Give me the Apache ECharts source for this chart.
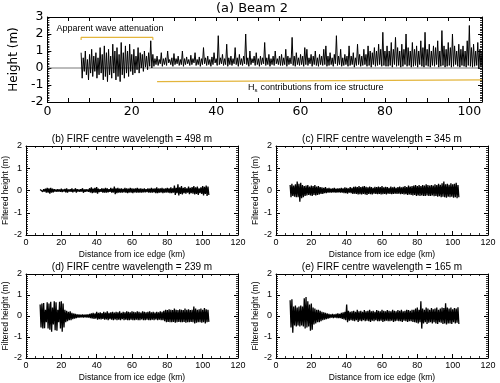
<!DOCTYPE html>
<html>
<head>
<meta charset="utf-8">
<script src="https://cdn.jsdelivr.net/npm/echarts/dist/echarts.min.js"></script>
<style>
  html, body { margin: 0; padding: 0; background: #fff; }
  #chart { width: 500px; height: 383px; }
</style>
</head>
<body>
<div id="chart"></div>
<script>
/* ================================
   DATA
================================ */
// (a) Beam 2 : local crest / trough of the height trace, every 0.5 km from 8 km
const beamStart = 8;
const beamStep = 0.5;
const beamHi = [
  0.9,0.6,1.0,0.5,0.8,1.1,0.7,0.9,0.6,
  1.2,0.8,1.3,0.9,1.1,0.7,1.4,1.0,1.2,0.8,1.5,0.9,1.3,1.0,1.4,0.8,
  1.1,0.7,1.2,0.9,0.8,1.0,0.7,0.9,1.6,0.8,
  0.55,0.7,0.5,0.9,0.55,0.6,1.0,0.5,0.6,0.85,
  0.55,0.7,0.5,1.0,0.55,0.65,0.5,0.75,0.55,0.9,
  0.5,0.65,0.55,1.2,0.6,0.7,0.5,0.65,0.9,0.55,
  1.9,0.6,0.8,0.55,1.4,0.6,0.7,0.55,1.2,0.6,
  0.8,0.55,0.7,2.0,0.6,1.0,0.55,0.7,0.9,0.55,
  0.7,0.6,1.5,0.6,0.8,0.55,0.7,1.0,0.55,0.7,
  0.8,0.6,1.1,0.7,0.6,1.8,0.7,0.9,0.6,0.8,
  0.7,1.2,1.1,0.6,0.8,0.7,1.0,0.6,0.8,0.7,
  1.1,1.3,0.7,0.9,0.6,0.8,1.9,0.7,1.1,0.6,
  0.8,0.7,1.3,0.7,0.9,0.6,1.4,0.8,0.7,1.1,
  0.8,1.3,1.0,0.9,1.2,1.0,1.4,1.1,2.1,1.0,
  1.3,1.0,1.5,1.1,1.8,1.2,1.0,1.4,1.1,2.0,
  1.2,1.0,1.5,1.1,1.3,1.0,1.6,1.2,2.1,1.1,
  1.4,1.0,1.3,1.2,1.6,1.0,2.2,1.3,1.1,1.5,
  1.2,2.0,1.3,1.0,1.4,1.1,1.3,1.0,1.6,2.5,
  1.2,1.4,1.0,1.5,1.1,0.9
];
const beamLo = [
  -0.6,-0.2,-0.4,-0.7,-0.3,-0.5,-0.2,-0.6,-0.4,
  -0.3,-0.7,-0.5,-0.8,-0.4,-0.6,-0.3,-0.7,-0.5,-0.8,-0.4,-0.6,-0.3,-0.5,-0.2,-0.4,
  -0.3,-0.1,-0.3,0.0,-0.2,0.05,-0.1,0.1,0.0,0.1,
  0.2,0.15,0.25,0.1,0.2,0.15,0.3,0.2,0.1,0.2,
  0.25,0.15,0.2,0.1,0.2,0.25,0.15,0.2,0.3,0.15,
  0.2,0.1,0.2,0.25,0.15,0.2,0.1,0.2,0.3,0.15,
  0.2,0.25,0.15,0.2,0.1,0.2,0.15,0.25,0.2,0.1,
  0.2,0.15,0.25,0.2,0.1,0.2,0.3,0.15,0.2,0.1,
  0.2,0.25,0.15,0.2,0.1,0.2,0.15,0.25,0.2,0.15,
  0.15,0.2,0.1,0.2,0.25,0.15,0.1,0.2,0.15,0.2,
  0.1,0.2,0.15,0.25,0.1,0.2,0.15,0.1,0.2,0.15,
  0.2,0.1,0.15,0.2,0.1,0.25,0.15,0.2,0.1,0.15,
  0.2,0.1,0.15,0.2,0.05,0.15,0.2,0.1,0.15,0.2,
  0.1,0.15,0.05,0.2,0.1,0.15,0.2,0.1,0.15,0.1,
  0.1,0.15,0.05,0.2,0.1,0.15,0.05,0.1,0.2,0.1,
  0.15,0.05,0.1,0.15,0.05,0.2,0.1,0.05,0.15,0.1,
  0.05,0.15,0.1,0.2,0.05,0.1,0.15,0.05,0.1,0.15,
  0.05,0.1,0.2,0.1,0.05,0.15,0.1,0.05,0.15,0.1,
  0.05,0.1,0.15,0.0,0.1,0.05
];

// annotation brackets on panel (a), [km, m]
const attenuationBracket = [[8, 1.65], [8, 1.8], [25, 1.8], [25, 1.65]];
const iceBracket = [[26, -0.8], [26, -0.7], [103, -0.7]];

// (b)-(e) filtered heights: crest / trough per 1 km from 8 km
const firfStart = 8;
const firfStep = 1;
const firf498Hi = [
  0.04,0.05,0.06,0.08,0.12,0.1,0.12,0.08,0.06,0.05,
  0.06,0.05,0.08,0.05,0.07,0.1,0.05,0.06,0.09,0.05,
  0.1,0.06,0.05,0.06,0.1,0.05,0.06,0.05,0.1,0.14,
  0.08,0.12,0.15,0.08,0.06,0.1,0.08,0.12,0.09,0.06,
  0.12,0.08,0.18,0.1,0.12,0.08,0.1,0.07,0.12,0.1,
  0.08,0.12,0.1,0.08,0.1,0.12,0.08,0.1,0.07,0.09,
  0.06,0.1,0.08,0.12,0.08,0.1,0.14,0.09,0.1,0.12,
  0.08,0.1,0.12,0.1,0.14,0.1,0.22,0.12,0.28,0.14,
  0.2,0.12,0.15,0.1,0.18,0.12,0.15,0.2,0.14,0.18,
  0.1,0.14,0.2,0.16,0.22,0.18
];
const firf498Lo = [
  -0.04,-0.06,-0.05,-0.1,-0.1,-0.14,-0.1,-0.08,-0.05,-0.06,
  -0.05,-0.06,-0.07,-0.05,-0.08,-0.09,-0.05,-0.06,-0.08,-0.05,
  -0.09,-0.05,-0.06,-0.05,-0.1,-0.06,-0.05,-0.06,-0.09,-0.12,
  -0.1,-0.1,-0.14,-0.07,-0.06,-0.09,-0.1,-0.1,-0.08,-0.06,
  -0.1,-0.09,-0.16,-0.12,-0.1,-0.09,-0.1,-0.08,-0.1,-0.12,
  -0.09,-0.1,-0.12,-0.08,-0.1,-0.1,-0.09,-0.1,-0.08,-0.08,
  -0.07,-0.09,-0.1,-0.1,-0.08,-0.12,-0.12,-0.1,-0.09,-0.12,
  -0.1,-0.09,-0.1,-0.12,-0.12,-0.1,-0.2,-0.12,-0.22,-0.15,
  -0.18,-0.12,-0.14,-0.1,-0.16,-0.12,-0.14,-0.18,-0.15,-0.2,
  -0.12,-0.15,-0.22,-0.15,-0.25,-0.2
];
const firf345Hi = [
  0.25,0.3,0.22,0.28,0.4,0.3,0.35,0.25,0.2,0.22,
  0.25,0.18,0.22,0.2,0.25,0.18,0.2,0.15,0.14,0.12,
  0.15,0.1,0.12,0.08,0.1,0.12,0.08,0.1,0.09,0.12,
  0.1,0.14,0.12,0.1,0.15,0.12,0.16,0.18,0.15,0.2,
  0.15,0.18,0.2,0.16,0.14,0.18,0.15,0.12,0.16,0.15,
  0.18,0.15,0.2,0.14,0.16,0.15,0.12,0.18,0.14,0.16,
  0.12,0.15,0.18,0.14,0.16,0.2,0.15,0.22,0.18,0.2,
  0.22,0.25,0.2,0.24,0.2,0.25,0.22,0.28,0.24,0.22,
  0.25,0.22,0.28,0.25,0.3,0.26,0.32,0.4,0.28,0.3,
  0.26,0.32,0.28,0.3,0.35,0.25
];
const firf345Lo = [
  -0.3,-0.25,-0.28,-0.3,-0.3,-0.5,-0.35,-0.3,-0.25,-0.22,
  -0.2,-0.22,-0.25,-0.2,-0.22,-0.2,-0.18,-0.15,-0.15,-0.12,
  -0.12,-0.1,-0.1,-0.1,-0.08,-0.1,-0.1,-0.08,-0.1,-0.1,
  -0.12,-0.12,-0.14,-0.1,-0.12,-0.15,-0.14,-0.15,-0.18,-0.16,
  -0.18,-0.15,-0.18,-0.2,-0.15,-0.16,-0.18,-0.14,-0.15,-0.16,
  -0.15,-0.18,-0.16,-0.15,-0.18,-0.14,-0.15,-0.16,-0.15,-0.14,
  -0.15,-0.14,-0.16,-0.15,-0.18,-0.16,-0.2,-0.18,-0.2,-0.22,
  -0.2,-0.24,-0.22,-0.25,-0.22,-0.24,-0.25,-0.22,-0.25,-0.24,
  -0.22,-0.26,-0.25,-0.28,-0.26,-0.3,-0.28,-0.3,-0.32,-0.28,
  -0.3,-0.28,-0.32,-0.3,-0.35,-0.3
];
const firf239Hi = [
  0.55,0.6,0.62,0.3,0.65,0.6,0.68,0.4,0.7,0.65,
  0.3,0.68,0.7,0.6,0.3,0.25,0.2,0.22,0.15,0.12,
  0.1,0.08,0.07,0.06,0.08,0.06,0.07,0.08,0.1,0.12,
  0.15,0.12,0.2,0.15,0.18,0.14,0.2,0.16,0.22,0.15,
  0.18,0.2,0.16,0.2,0.18,0.22,0.15,0.2,0.18,0.22,
  0.2,0.18,0.22,0.2,0.18,0.22,0.2,0.16,0.22,0.2,
  0.18,0.2,0.22,0.18,0.2,0.16,0.2,0.18,0.22,0.2,
  0.25,0.3,0.28,0.32,0.3,0.28,0.35,0.3,0.28,0.32,
  0.3,0.28,0.35,0.3,0.32,0.28,0.3,0.45,0.35,0.3,
  0.32,0.35,0.3,0.38,0.32,0.3
];
const firf239Lo = [
  -0.55,-0.6,-0.58,-0.3,-0.6,-0.65,-0.75,-0.4,-0.68,-0.7,
  -0.3,-0.6,-0.75,-0.55,-0.3,-0.25,-0.2,-0.2,-0.15,-0.12,
  -0.1,-0.08,-0.07,-0.06,-0.07,-0.06,-0.07,-0.08,-0.1,-0.12,
  -0.14,-0.12,-0.18,-0.15,-0.16,-0.14,-0.18,-0.16,-0.2,-0.15,
  -0.18,-0.2,-0.16,-0.2,-0.18,-0.2,-0.15,-0.2,-0.18,-0.2,
  -0.2,-0.18,-0.2,-0.2,-0.18,-0.2,-0.2,-0.16,-0.2,-0.2,
  -0.18,-0.2,-0.2,-0.18,-0.2,-0.16,-0.2,-0.18,-0.2,-0.2,
  -0.25,-0.3,-0.28,-0.3,-0.3,-0.28,-0.32,-0.3,-0.28,-0.3,
  -0.3,-0.28,-0.32,-0.3,-0.3,-0.28,-0.3,-0.35,-0.32,-0.3,
  -0.3,-0.32,-0.3,-0.35,-0.3,-0.28
];
const firf165Hi = [
  0.75,0.8,0.45,0.5,0.4,0.45,0.5,0.45,0.85,0.9,
  0.7,0.55,0.6,0.4,0.35,0.3,0.3,0.25,0.2,0.18,
  0.15,0.12,0.1,0.08,0.1,0.08,0.1,0.12,0.1,0.15,
  0.18,0.2,0.55,0.25,0.2,0.22,0.25,0.2,0.3,0.22,
  0.25,0.2,0.28,0.22,0.25,0.3,0.22,0.25,0.2,0.28,
  0.25,0.22,0.3,0.25,0.22,0.28,0.25,0.22,0.3,0.25,
  0.22,0.28,0.25,0.3,0.22,0.25,0.3,0.28,0.25,0.3,
  0.3,0.35,0.4,0.3,0.7,0.35,0.3,0.4,0.35,0.3,
  0.38,0.32,0.35,0.4,0.3,0.35,0.4,0.38,0.6,0.4,
  0.35,0.4,0.32,0.38,0.35,0.42
];
const firf165Lo = [
  -0.55,-0.8,-0.45,-0.5,-0.45,-0.5,-0.45,-0.5,-0.6,-0.55,
  -0.5,-0.7,-0.65,-0.4,-0.35,-0.3,-0.3,-0.25,-0.2,-0.18,
  -0.15,-0.12,-0.1,-0.08,-0.1,-0.08,-0.1,-0.1,-0.1,-0.14,
  -0.16,-0.2,-0.3,-0.22,-0.2,-0.22,-0.25,-0.2,-0.28,-0.22,
  -0.25,-0.2,-0.25,-0.22,-0.25,-0.28,-0.22,-0.25,-0.2,-0.25,
  -0.25,-0.22,-0.28,-0.25,-0.22,-0.25,-0.25,-0.22,-0.28,-0.25,
  -0.22,-0.25,-0.25,-0.28,-0.22,-0.25,-0.28,-0.25,-0.25,-0.28,
  -0.3,-0.32,-0.35,-0.3,-0.6,-0.35,-0.3,-0.38,-0.32,-0.3,
  -0.35,-0.3,-0.35,-0.38,-0.3,-0.32,-0.38,-0.35,-0.4,-0.35,
  -0.35,-0.38,-0.3,-0.35,-0.32,-0.38
];

const panelTitles = [
  "(b) FIRF centre wavelength = 498 m",
  "(c) FIRF centre wavelength = 345 m",
  "(d) FIRF centre wavelength = 239 m",
  "(e) FIRF centre wavelength = 165 m"
];

/* ================================
   HELPERS
================================ */
const TOP_FONT = "DejaVu Sans";
const SUB_FONT = "Liberation Sans";
const YELLOW = "#e3b53c";

// crest then trough, so the line swings through the band like the raw trace
function zigzag(start, step, hi, lo) {
  const pts = [];
  for (let i = 0; i < hi.length; i++) {
    const x = start + i * step;
    pts.push([x, hi[i]]);
    pts.push([x + step / 2, lo[i]]);
  }
  return pts;
}

function frameAxis(gridIndex, position, cfg) {
  return {
    type: "value",
    gridIndex: gridIndex,
    position: position,
    min: cfg.min,
    max: cfg.max,
    interval: cfg.interval,
    name: cfg.name || "",
    nameLocation: "middle",
    nameGap: cfg.nameGap || 0,
    nameTextStyle: { fontFamily: cfg.font, fontSize: cfg.nameSize, color: "#000" },
    axisLine: { show: true, onZero: false, lineStyle: { color: "#000", width: 1 } },
    axisTick: { show: true, inside: true, length: cfg.tickLen, lineStyle: { color: "#000", width: 1 } },
    minorTick: cfg.minor
      ? { show: true, splitNumber: cfg.minor, length: cfg.minorLen, lineStyle: { color: "#000", width: 0.8 } }
      : { show: false },
    axisLabel: {
      show: !!cfg.labels,
      fontFamily: cfg.font,
      fontSize: cfg.labelSize,
      color: "#000",
      margin: cfg.labelMargin,
      formatter: cfg.formatter
    },
    splitLine: { show: false }
  };
}

/* ================================
   AXES / GRIDS
================================ */
const grids = [{ left: 36, top: 17, width: 446, height: 85 }];
const xAxes = [];
const yAxes = [];

// panel (a)
const topX = {
  min: 0, max: 103, interval: 5, tickLen: 4, font: TOP_FONT, labelSize: 12.5, labelMargin: 3,
  formatter: v => (v % 20 === 0 ? String(v) : "")
};
const topY = {
  min: -2, max: 3, interval: 1, tickLen: 4, minor: 10, minorLen: 2, font: TOP_FONT,
  labelSize: 12.5, labelMargin: 4, name: "Height (m)", nameGap: 22, nameSize: 12
};
xAxes.push(frameAxis(0, "bottom", Object.assign({ labels: true }, topX)));
xAxes.push(frameAxis(0, "top", topX));
yAxes.push(frameAxis(0, "left", Object.assign({ labels: true }, topY)));
yAxes.push(frameAxis(0, "right", Object.assign({}, topY, { name: "" })));

// panels (b)-(e)
const subPos = [[26, 146], [276, 146], [26, 274], [276, 274]];
const subX = {
  min: 0, max: 120, interval: 20, tickLen: 4, minor: 4, minorLen: 2, font: SUB_FONT,
  labelSize: 9, labelMargin: 3, name: "Distance from ice edge (km)", nameGap: 15, nameSize: 8.5
};
const subY = {
  min: -2, max: 2, interval: 1, tickLen: 4, minor: 10, minorLen: 2, font: SUB_FONT,
  labelSize: 9, labelMargin: 4, name: "Filtered height (m)", nameGap: 15, nameSize: 8.5
};
subPos.forEach((p, k) => {
  const g = k + 1;
  grids.push({ left: p[0], top: p[1], width: 212, height: 89 });
  xAxes.push(frameAxis(g, "bottom", Object.assign({ labels: true }, subX)));
  xAxes.push(frameAxis(g, "top", Object.assign({}, subX, { name: "" })));
  yAxes.push(frameAxis(g, "left", Object.assign({ labels: true }, subY)));
  yAxes.push(frameAxis(g, "right", Object.assign({}, subY, { name: "" })));
});

/* ================================
   SERIES
================================ */
const series = [
  {
    type: "line", xAxisIndex: 0, yAxisIndex: 0,
    data: [[0, 0], [103, 0]],
    symbol: "none", lineStyle: { color: "#555", width: 0.8 }, z: 1
  },
  {
    type: "line", xAxisIndex: 0, yAxisIndex: 0,
    data: zigzag(beamStart, beamStep, beamHi, beamLo),
    symbol: "none", lineStyle: { color: "#000", width: 1 }, z: 2
  },
  {
    type: "line", xAxisIndex: 0, yAxisIndex: 0, data: attenuationBracket,
    symbol: "none", lineStyle: { color: YELLOW, width: 1.2 }, z: 3
  },
  {
    type: "line", xAxisIndex: 0, yAxisIndex: 0, data: iceBracket,
    symbol: "none", lineStyle: { color: YELLOW, width: 1.2 }, z: 3
  }
];
const firf = [
  [firf498Hi, firf498Lo],
  [firf345Hi, firf345Lo],
  [firf239Hi, firf239Lo],
  [firf165Hi, firf165Lo]
];
firf.forEach((f, k) => {
  series.push({
    type: "line", xAxisIndex: 2 * (k + 1), yAxisIndex: 2 * (k + 1),
    data: zigzag(firfStart, firfStep, f[0], f[1]),
    symbol: "none", lineStyle: { color: "#000", width: 1.3 }
  });
});

/* ================================
   TEXT
================================ */
function label(x, y, text, font, align) {
  return {
    type: "text", x: x, y: y, silent: true,
    style: {
      text: text, font: font, fill: "#000",
      textAlign: align || "center", textVerticalAlign: "middle",
      align: align || "center", verticalAlign: "middle"
    }
  };
}
const graphics = [
  label(252, 9, "(a) Beam 2", '13px "DejaVu Sans"'),
  label(110, 29, "Apparent wave attenuation", '9px "Liberation Sans"'),
  label(248, 88, "H", '9px "Liberation Sans"', "left"),
  label(254.5, 90.5, "s", '6px "Liberation Sans"', "left"),
  label(258, 88, " contributions from ice structure", '9px "Liberation Sans"', "left")
];
subPos.forEach((p, k) => {
  graphics.push(label(p[0] + 106, p[1] - 7, panelTitles[k], '10px "Liberation Sans"'));
});

/* ================================
   RENDER
================================ */
const chart = echarts.init(document.getElementById("chart"), null, { renderer: "canvas" });
chart.setOption({
  animation: false,
  backgroundColor: "#fff",
  grid: grids,
  xAxis: xAxes,
  yAxis: yAxes,
  series: series,
  graphic: graphics
});
</script>
</body>
</html>
